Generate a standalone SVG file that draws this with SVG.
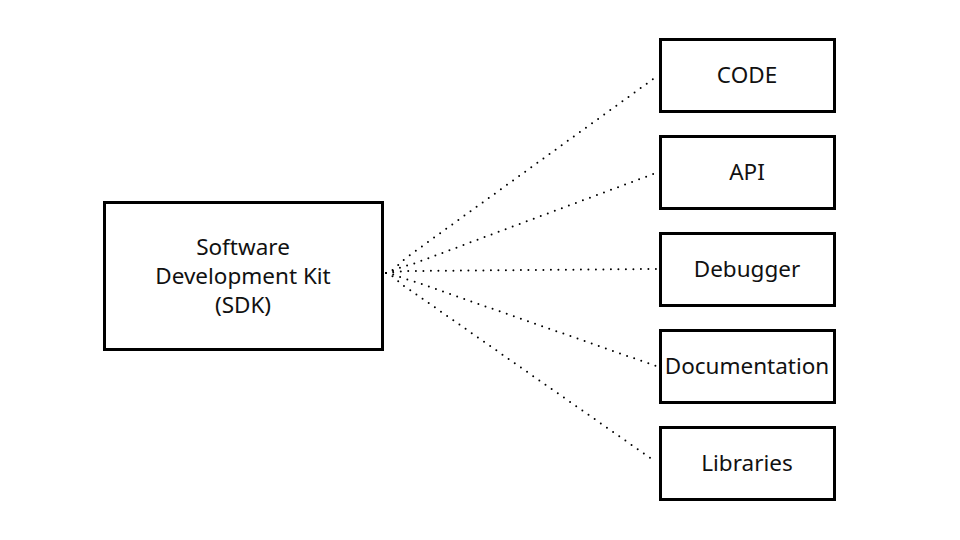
<svg xmlns="http://www.w3.org/2000/svg" width="960" height="540" viewBox="0 0 960 540">
<style>
.box{fill:#fff;stroke:#000;stroke-width:3}
.t{font-family:"Noto Sans","Open Sans","Liberation Sans",sans-serif;font-size:22.5px;fill:#111;text-anchor:middle}
.c{fill:none;stroke:#000;stroke-width:2;stroke-dasharray:0 7.5;stroke-linecap:round}
</style>
<rect width="960" height="540" fill="#fff"/>
<g id="connectors">
<path class="c" d="M386,273 C392,273 400,262 410,255 L656,77"/>
<path class="c" d="M386,273 C392,273 400,266 410,265 L656,173"/>
<path class="c" d="M386,273 C392,273 398,271 410,271 L656,269"/>
<path class="c" d="M386,273 C392,273 400,278 410,280 L656,366"/>
<path class="c" d="M386,273 C392,273 400,285 410,290 L656,462"/>
</g>
<g id="sdk">
<rect class="box" x="104.5" y="202.5" width="278" height="147"/>
<text class="t" x="243" y="255">Software</text>
<text class="t" x="243" y="284">Development Kit</text>
<text class="t" x="243" y="313">(SDK)</text>
</g>
<g id="code">
<rect class="box" x="660.5" y="39.5" width="174" height="72"/>
<text class="t" x="747" y="83">CODE</text>
</g>
<g id="api">
<rect class="box" x="660.5" y="136.5" width="174" height="72"/>
<text class="t" x="747" y="180">API</text>
</g>
<g id="debugger">
<rect class="box" x="660.5" y="233.5" width="174" height="72"/>
<text class="t" x="747" y="277">Debugger</text>
</g>
<g id="documentation">
<rect class="box" x="660.5" y="330.5" width="174" height="72"/>
<text class="t" x="747" y="374">Documentation</text>
</g>
<g id="libraries">
<rect class="box" x="660.5" y="427.5" width="174" height="72"/>
<text class="t" x="747" y="471">Libraries</text>
</g>
</svg>
